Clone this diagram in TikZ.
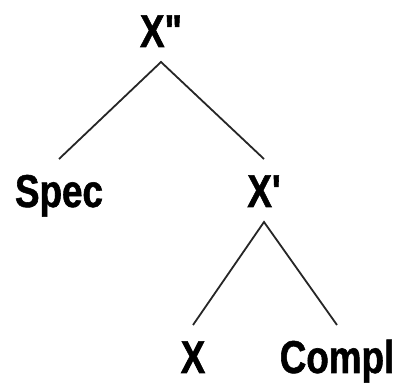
\documentclass[tikz,border=0pt]{standalone}
\usepackage{fontspec}
\newfontfamily\treefont{Liberation Sans}[Ligatures=TeXOff,FakeStretch=0.8,FakeBold=1.2]
\begin{document}
\begin{tikzpicture}[x=1pt,y=-1pt,
  lbl/.style={font=\treefont\bfseries\fontsize{46}{50}\selectfont, anchor=base,
    inner sep=0pt, outer xsep=0pt, outer ysep=15pt, text height=33pt, text depth=0pt},
  edge/.style={line width=1.8pt, draw=black!85}]
\useasboundingbox (0,0) rectangle (399,387);
\node[lbl] (xpp) at (161,47) {X\symbol{34}};
\node[lbl] (spec) at (59,207) {Spec};
\node[lbl] (xp) at (264,207) {X\symbol{39}};
\node[lbl] (x) at (193,373) {X};
\node[lbl] (compl) at (337,373) {Compl};
\draw[edge] (spec.north) -- (xpp.south) -- (xp.north);
\draw[edge] (x.north) -- (xp.south) -- (compl.north);
\end{tikzpicture}
\end{document}
